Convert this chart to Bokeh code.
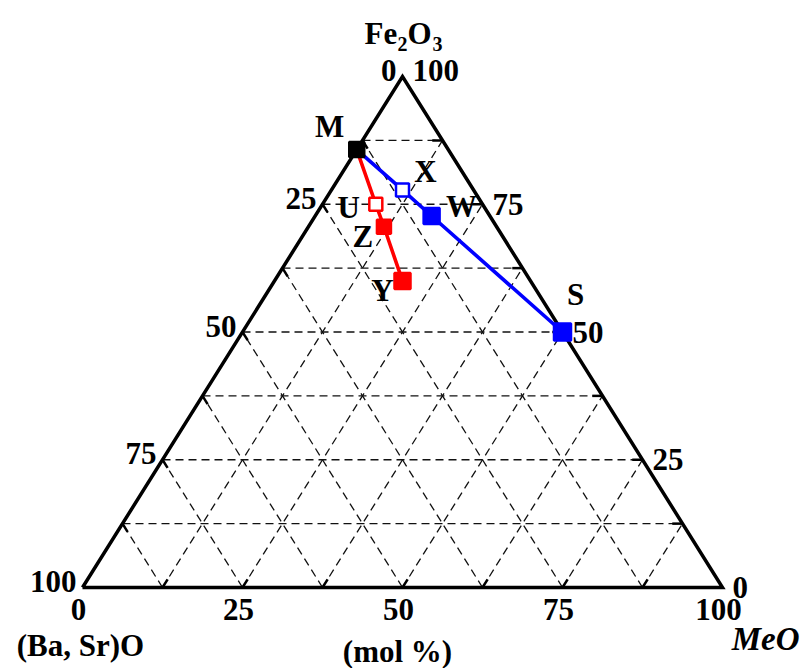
from bokeh.plotting import figure
from bokeh.models import ColumnDataSource, Range1d
from bokeh.embed import file_html
from bokeh.resources import INLINE
from bokeh.core.properties import value

# Phase compositions in mol %: MeO and Fe2O3 ((Ba, Sr)O is the balance)
phases = ["M", "X", "W", "S", "U", "Z", "Y"]
meo = [0.0, 11.1, 18.2, 50.0, 8.33, 11.8, 20.0]
fe2o3 = [85.7, 77.8, 72.7, 50.0, 75.0, 70.6, 60.0]

# tie lines through the phases
blue_path = ["M", "X", "W", "S"]
red_path = ["M", "U", "Z", "Y"]

# axis tick labels (mol %) and grid spacing
tick_values = [0, 25, 50, 75, 100]
grid_step = 12.5

FONT = value("Liberation Serif")
FS = "31px"

W, H = 801, 668
# pixel layout of the triangle: left corner, bottom, side length and height
PX0, PY0, PW, PH = 82.0, 587.0, 640.0, 511.0


def tern(a, f):
    """MeO, Fe2O3 (%) -> plot coordinates (bottom edge 0..100, apex height 100)."""
    return a + f / 2.0, f


def pix_x(px):
    return (px - PX0) * 100.0 / PW


def pix_y(py):
    return (PY0 - py) * 100.0 / PH


p = figure(width=W, height=H, output_backend="svg", toolbar_location=None,
           x_range=Range1d(pix_x(0), pix_x(W)), y_range=Range1d(pix_y(H), pix_y(0)),
           x_axis_location=None, y_axis_location=None, min_border=0)
p.grid.visible = False
p.outline_line_color = None
p.background_fill_color = "white"
p.border_fill_color = "white"

# dashed grid: constant Fe2O3, constant MeO, constant (Ba, Sr)O
gx, gy = [], []
n = int(round(100 / grid_step))
for k in range(1, n):
    v = k * grid_step
    for (a1, f1), (a2, f2) in [((0, v), (100 - v, v)),
                               ((v, 0), (v, 100 - v)),
                               ((100 - v, 0), (0, 100 - v))]:
        x1, y1 = tern(a1, f1)
        x2, y2 = tern(a2, f2)
        gx.append([x1, x2])
        gy.append([y1, y2])
p.multi_line(gx, gy, line_color="#111111", line_width=1.3, line_dash="8 5")

# short solid ticks on the edges
tl = 1.6
tx, ty = [], []
for k in range(1, n):
    v = k * grid_step
    for (a1, f1), (a2, f2) in [((v, 0), (v, tl)),
                               ((0, 100 - v), (tl, 100 - v - tl)),
                               ((100 - v, v), (100 - v - tl, v))]:
        x1, y1 = tern(a1, f1)
        x2, y2 = tern(a2, f2)
        tx.append([x1, x2])
        ty.append([y1, y2])
p.multi_line(tx, ty, line_color="black", line_width=2.5)

# triangle frame
cx = [tern(0, 0)[0], tern(100, 0)[0], tern(0, 100)[0], tern(0, 0)[0]]
cy = [tern(0, 0)[1], tern(100, 0)[1], tern(0, 100)[1], tern(0, 0)[1]]
p.line(cx, cy, line_color="black", line_width=3.5, line_join="miter")

pos = {ph: tern(a, f) for ph, a, f in zip(phases, meo, fe2o3)}


def path_xy(path):
    return [pos[q][0] for q in path], [pos[q][1] for q in path]


bx, by = path_xy(blue_path)
rx, ry = path_xy(red_path)
p.line(bx, by, line_color="#0000ff", line_width=3.6)
p.line(rx, ry, line_color="#ff0000", line_width=3.6)

# phase markers
style = {
    "M": ("black", "black", 15),
    "X": ("white", "#0000ff", 13),
    "W": ("#0000ff", "#0000ff", 16),
    "S": ("#0000ff", "#0000ff", 17),
    "U": ("white", "#ff0000", 13),
    "Z": ("#ff0000", "#ff0000", 14),
    "Y": ("#ff0000", "#ff0000", 16),
}
src = ColumnDataSource(dict(
    x=[pos[q][0] for q in phases], y=[pos[q][1] for q in phases],
    fill=[style[q][0] for q in phases], line=[style[q][1] for q in phases],
    size=[style[q][2] for q in phases]))
p.scatter("x", "y", source=src, marker="square", size="size",
          fill_color="fill", line_color="line", line_width=2.5)

# phase letters, offset in screen pixels (right, down) from each marker
lab_off = {"M": (-27, -23), "X": (23, -18), "W": (30, -10), "S": (13, -38),
           "U": (-27, 3), "Z": (-21, 10), "Y": (-20, 10)}
p.text([pos[q][0] for q in phases], [pos[q][1] for q in phases], text=phases,
       x_offset=[lab_off[q][0] for q in phases], y_offset=[lab_off[q][1] for q in phases],
       text_font=FONT, text_font_style="bold", text_font_size=FS,
       text_align="center", text_baseline="middle", text_color="black")

# left edge: (Ba, Sr)O
lx, ly, lt = [], [], []
for v in tick_values:
    x, y = tern(0, 100 - v)
    lx.append(x); ly.append(y); lt.append(str(v))
p.text(lx, ly, text=lt, x_offset=-6, y_offset=-6, text_font=FONT,
       text_font_style="bold", text_font_size=FS, text_align="right",
       text_baseline="middle")

# right edge: Fe2O3
rxl, ryl, rtl, ryo = [], [], [], []
for v in tick_values:
    x, y = tern(100 - v, v)
    rxl.append(x); ryl.append(y); rtl.append(str(v))
    ryo.append(-6 if v == 100 else 0)
p.text(rxl, ryl, text=rtl, x_offset=10, y_offset=ryo, text_font=FONT,
       text_font_style="bold", text_font_size=FS, text_align="left",
       text_baseline="middle")

# bottom edge: MeO
bxl, byl, btl = [], [], []
for v in tick_values:
    x, y = tern(v, 0)
    bxl.append(x); byl.append(y); btl.append(str(v))
p.text(bxl, byl, text=btl, x_offset=-4, y_offset=22, text_font=FONT,
       text_font_style="bold", text_font_size=FS, text_align="center",
       text_baseline="middle")

# axis titles
p.text([pix_x(80)], [pix_y(645)], text=["(Ba, Sr)O"], text_font=FONT,
       text_font_style="bold", text_font_size=FS, text_align="center",
       text_baseline="middle")
p.text([pix_x(397)], [pix_y(651)], text=["(mol %)"], text_font=FONT,
       text_font_style="bold", text_font_size=FS, text_align="center",
       text_baseline="middle")
p.text([pix_x(799)], [pix_y(638)], text=["MeO"], text_font=FONT,
       text_font_style="bold italic", text_font_size="33px", text_align="right",
       text_baseline="middle")

# Fe2O3 title with subscripts
p.text([pix_x(364), pix_x(407)], [pix_y(33), pix_y(33)], text=["Fe", "O"],
       text_font=FONT, text_font_style="bold", text_font_size=FS,
       text_align="left", text_baseline="alphabetic")
p.text([pix_x(397), pix_x(432)], [pix_y(43), pix_y(43)], text=["2", "3"],
       text_font=FONT, text_font_style="bold", text_font_size="20px",
       text_align="left", text_baseline="alphabetic")

open("out.html", "w").write(file_html(p, INLINE))
